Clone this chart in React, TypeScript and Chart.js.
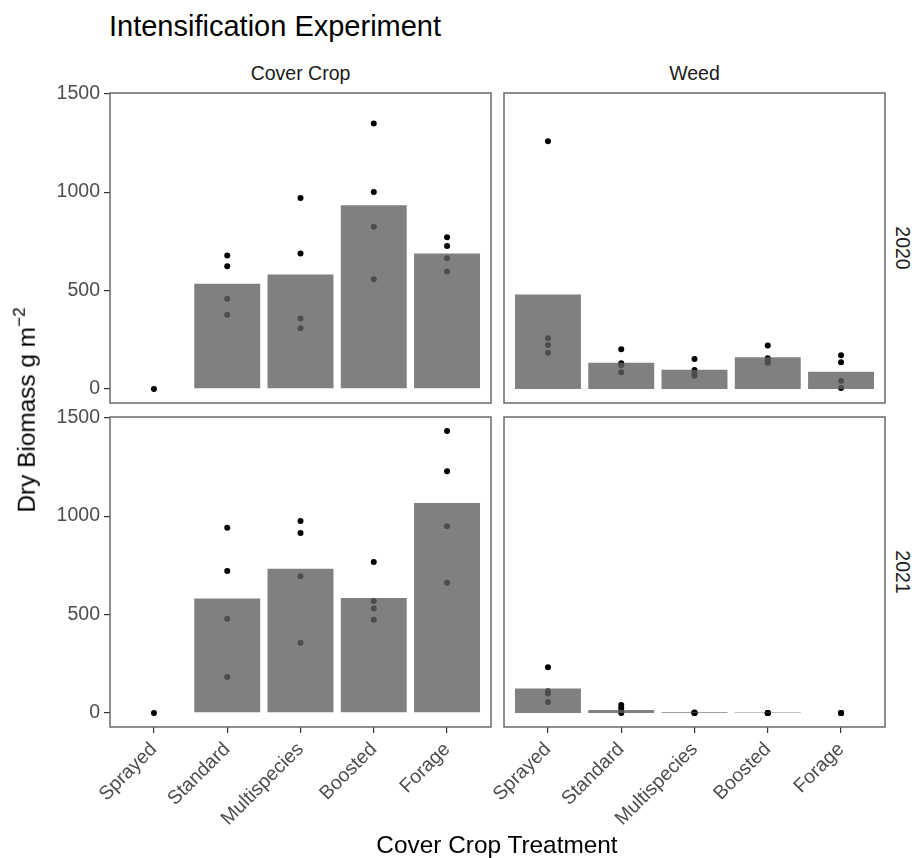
import React, { useEffect, useRef } from 'react';
import { Chart, registerables } from 'chart.js';

Chart.register(...registerables);

const FONT = '"Liberation Sans", Arial, Helvetica, sans-serif';

// ---- data ----
const categories = ['Sprayed', 'Standard', 'Multispecies', 'Boosted', 'Forage'];
const yTickValues = [0, 500, 1000, 1500];
const yMin = -71.6;
const yMax = 1503.6;

const coverBars2020 = [0, 534, 581, 933, 688];
const coverPoints2020 = [[0], [678, 623, 458, 377], [970, 688, 358, 308], [1348, 1000, 824, 557], [770, 726, 664, 596]];
const weedBars2020 = [480, 133, 97, 161, 87];
const weedPoints2020 = [[1258, 257, 223, 184], [201, 130, 120, 85], [152, 96, 80, 67], [220, 156, 142, 133], [171, 135, 41, 4]];
const coverBars2021 = [0, 581, 733, 584, 1066];
const coverPoints2021 = [[0], [941, 721, 479, 183], [975, 914, 694, 357], [767, 569, 530, 474], [1432, 1228, 949, 662]];
const weedBars2021 = [124, 15, 3, 2.5, 0];
const weedPoints2021 = [[232, 110, 98, 56], [40, 24, 6, 0], [2, 1, 0, 0], [0, 0, 0, 0], [0, 0, 0, 0]];

const facetCols = ['Cover Crop', 'Weed'];
const facetRows = ['2020', '2021'];

// ---- layout ----
const COLS = [110, 504];
const ROWS = [93, 417];
const PW = 381;
const PH = 310;
const Y_AXIS_W = 100;
const X_AXIS_H = 112;
const PAD_T = 16;
const PAD_R = 4;
const PAD_B = 4;
const PAD_L = 80;

const boxPlugin = {
  id: 'panelBox',
  afterDraw(chart: any) {
    const { ctx, chartArea: a } = chart;
    ctx.save();
    ctx.strokeStyle = '#6a6a6a';
    ctx.lineWidth = 1.5;
    ctx.strokeRect(a.left, a.top, a.right - a.left, a.bottom - a.top);
    ctx.restore();
  },
};

function Panel({ bars, points, row, col, showX, showY }: any) {
  const ref = useRef<HTMLCanvasElement>(null);
  const leftPad = showY ? Y_AXIS_W : PAD_L;
  const left = COLS[col] - leftPad;
  const top = ROWS[row] - PAD_T;
  const width = leftPad + PW + PAD_R;
  const height = PAD_T + PH + (showX ? X_AXIS_H : PAD_B);

  useEffect(() => {
    const pts: { x: number; y: number }[] = [];
    points.forEach((arr: number[], i: number) => arr.forEach((v) => pts.push({ x: i + 1, y: v })));
    const tickFont = { family: FONT, size: 19.5 };
    const chart = new Chart(ref.current as HTMLCanvasElement, {
      type: 'bar',
      data: {
        datasets: [
          {
            type: 'bar',
            data: bars.map((v: number, i: number) => ({ x: i + 1, y: v })),
            backgroundColor: 'rgba(96,96,96,0.8)',
            borderWidth: 0,
            barPercentage: 0.9,
            categoryPercentage: 1,
            order: 0,
          } as any,
          {
            type: 'scatter',
            data: pts,
            pointBackgroundColor: '#000',
            pointBorderWidth: 0,
            pointRadius: 3,
            pointHoverRadius: 3,
            order: 1,
          } as any,
        ],
      },
      options: {
        responsive: false,
        animation: false,
        devicePixelRatio: 1,
        events: [],
        layout: {
          padding: { top: PAD_T, right: PAD_R, bottom: showX ? 0 : PAD_B, left: showY ? 0 : PAD_L },
        },
        plugins: { legend: { display: false }, tooltip: { enabled: false } },
        scales: {
          x: {
            type: 'linear',
            min: 0.4,
            max: 5.6,
            offset: false,
            display: showX,
            afterBuildTicks: (s: any) => {
              s.ticks = categories.map((_, i) => ({ value: i + 1 }));
            },
            afterFit: (s: any) => {
              if (showX) s.height = X_AXIS_H;
              s.paddingLeft = 0;
              s.paddingRight = 0;
            },
            grid: { display: true, offset: false, drawOnChartArea: false, drawTicks: true, tickLength: 6, color: '#333', lineWidth: 1.2 },
            border: { display: false },
            ticks: {
              autoSkip: false,
              minRotation: 45,
              maxRotation: 45,
              padding: 5,
              color: '#4d4d4d',
              font: tickFont,
              callback: (v: any) => categories[Math.round(Number(v)) - 1] ?? '',
            },
          },
          y: {
            type: 'linear',
            min: yMin,
            max: yMax,
            display: showY,
            afterBuildTicks: (s: any) => {
              s.ticks = yTickValues.map((v) => ({ value: v }));
            },
            afterFit: (s: any) => {
              if (showY) s.width = Y_AXIS_W;
              s.paddingTop = 0;
              s.paddingBottom = 0;
            },
            grid: { display: true, drawOnChartArea: false, drawTicks: true, tickLength: 6, color: '#333', lineWidth: 1.2 },
            border: { display: false },
            ticks: { padding: 4, color: '#4d4d4d', font: tickFont, callback: (v: any) => String(v) },
          },
        },
      } as any,
      plugins: [boxPlugin],
    });
    return () => chart.destroy();
  }, []);

  return (
    <canvas
      ref={ref}
      width={width}
      height={height}
      style={{ position: 'absolute', left, top, width, height, display: 'block' }}
    />
  );
}

function Txt({ x, y, size, color = '#000', rotate = 0, children }: any) {
  return (
    <div style={{ position: 'absolute', left: x, top: y, width: 0, height: 0 }}>
      <div
        style={{
          position: 'absolute',
          left: 0,
          top: 0,
          transform: `translate(-50%, -50%) rotate(${rotate}deg)`,
          whiteSpace: 'nowrap',
          fontFamily: FONT,
          fontSize: size,
          lineHeight: 1,
          color,
        }}
      >
        {children}
      </div>
    </div>
  );
}

export default function App() {
  const panels = [
    { bars: coverBars2020, points: coverPoints2020, row: 0, col: 0 },
    { bars: weedBars2020, points: weedPoints2020, row: 0, col: 1 },
    { bars: coverBars2021, points: coverPoints2021, row: 1, col: 0 },
    { bars: weedBars2021, points: weedPoints2021, row: 1, col: 1 },
  ];
  return (
    <div style={{ position: 'absolute', left: 0, top: 0, width: 912, height: 858, background: '#fff', overflow: 'hidden' }}>
      <div
        style={{
          position: 'absolute',
          left: 109,
          top: 12,
          fontFamily: FONT,
          fontSize: 29,
          lineHeight: 1,
          color: '#000',
          whiteSpace: 'nowrap',
        }}
      >
        Intensification Experiment
      </div>
      {facetCols.map((c, i) => (
        <Txt key={c} x={COLS[i] + PW / 2} y={74} size={19.5} color="#1a1a1a">
          {c}
        </Txt>
      ))}
      {facetRows.map((r, i) => (
        <Txt key={r} x={902} y={ROWS[i] + PH / 2} size={19.5} color="#1a1a1a" rotate={90}>
          {r}
        </Txt>
      ))}
      {panels.map((p) => (
        <Panel key={`${p.row}-${p.col}`} {...p} showX={p.row === 1} showY={p.col === 0} />
      ))}
      <Txt x={27} y={410} size={24.4} rotate={-90}>
        Dry Biomass g m
        <span style={{ fontSize: '0.7em', position: 'relative', top: '-0.6em' }}>−2</span>
      </Txt>
      <Txt x={497} y={845} size={24.4}>
        Cover Crop Treatment
      </Txt>
    </div>
  );
}
